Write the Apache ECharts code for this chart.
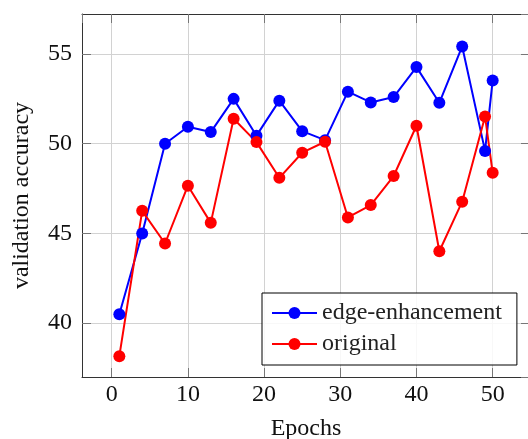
<!DOCTYPE html>
<html lang="en">
<head>
    <meta charset="UTF-8">
    <title>chart</title>
    <script src="https://cdn.jsdelivr.net/npm/echarts@6/dist/echarts.min.js"></script>
    <style>
        html, body {
            margin: 0;
            height: 100%;
            background: #fff;
        }
        #app {
            width: 528px;
            height: 439px;
        }
    </style>
</head>
<body>
<div id="app"></div>
<script>
    // epochs where a validation was run
    var epochs = [1, 4, 7, 10, 13, 16, 19, 22, 25, 28, 31, 34, 37, 40, 43, 46, 49, 50];
    var edgeAcc = [40.5, 45.0, 50.0, 50.95, 50.65, 52.5, 50.45, 52.4, 50.7, 50.2,
        52.9, 52.3, 52.6, 54.27, 52.28, 55.42, 49.6, 53.53];
    var origAcc = [38.16, 46.26, 44.44, 47.66, 45.59, 51.39, 50.09, 48.1, 49.5, 50.11,
        45.89, 46.58, 48.2, 51.0, 44.01, 46.77, 51.52, 48.38];
    var seriesNames = ['edge-enhancement', 'original'];
    var seriesColors = ['#0000ff', '#ff0000'];

    var xRange = [-3.9, 54.9];
    var yRange = [37.0, 57.23];

    function pairs(vals) {
        var out = [];
        for (var i = 0; i < epochs.length; i++) {
            out.push([epochs[i], vals[i]]);
        }
        return out;
    }

    var font = 'Liberation Serif';
    var tickStyle = { show: true, inside: true, length: 9, lineStyle: { color: '#777', width: 1 } };
    var lineStyle = { show: true, onZero: false, lineStyle: { color: '#333', width: 1 } };
    var gridLine = { show: true, lineStyle: { color: '#d2d2d2', width: 1 } };

    var option = {
        animation: false,
        grid: {
            left: 82, top: 14, width: 448, height: 363,
            containLabel: false,
            outerBoundsMode: 'none'
        },
        legend: {
            left: 262,
            top: 293,
            orient: 'vertical',
            padding: [8, 15, 9, 9],
            itemGap: 7,
            itemWidth: 45,
            itemHeight: 15,
            borderColor: '#000',
            borderWidth: 1,
            borderRadius: 0,
            backgroundColor: 'rgba(255,255,255,0.85)',
            textStyle: { fontFamily: font, fontSize: 24, color: '#222', lineHeight: 24 },
            data: seriesNames
        },
        xAxis: [
            {
                type: 'value',
                min: xRange[0],
                max: xRange[1],
                splitNumber: 5,
                name: 'Epochs',
                nameLocation: 'middle',
                nameGap: 40,
                nameTextStyle: { fontFamily: font, fontSize: 24, color: '#111' },
                axisLine: lineStyle,
                axisTick: tickStyle,
                splitLine: gridLine,
                axisLabel: {
                    fontFamily: font, fontSize: 24, color: '#111', margin: 6,
                    showMinLabel: false, showMaxLabel: false
                }
            },
            {
                type: 'value',
                position: 'top',
                min: xRange[0],
                max: xRange[1],
                splitNumber: 5,
                axisLine: lineStyle,
                axisTick: tickStyle,
                splitLine: { show: false },
                axisLabel: { show: false }
            }
        ],
        yAxis: [
            {
                type: 'value',
                min: yRange[0],
                max: yRange[1],
                splitNumber: 5,
                name: 'validation accuracy',
                nameLocation: 'middle',
                nameGap: 48,
                nameTextStyle: { fontFamily: font, fontSize: 24, color: '#111' },
                axisLine: lineStyle,
                axisTick: tickStyle,
                splitLine: gridLine,
                axisLabel: {
                    fontFamily: font, fontSize: 24, color: '#111', margin: 10,
                    showMinLabel: false, showMaxLabel: false
                }
            },
            {
                type: 'value',
                position: 'right',
                min: yRange[0],
                max: yRange[1],
                splitNumber: 5,
                axisLine: lineStyle,
                axisTick: tickStyle,
                splitLine: { show: false },
                axisLabel: { show: false }
            }
        ],
        series: [
            {
                name: seriesNames[0],
                type: 'line',
                data: pairs(edgeAcc),
                symbol: 'circle',
                symbolSize: 12,
                color: seriesColors[0],
                lineStyle: { width: 2, color: seriesColors[0] }
            },
            {
                name: seriesNames[1],
                type: 'line',
                data: pairs(origAcc),
                symbol: 'circle',
                symbolSize: 12,
                color: seriesColors[1],
                lineStyle: { width: 2, color: seriesColors[1] }
            }
        ]
    };

    var myChart = echarts.init(document.getElementById('app'));
    myChart.setOption(option);
</script>
</body>
</html>
